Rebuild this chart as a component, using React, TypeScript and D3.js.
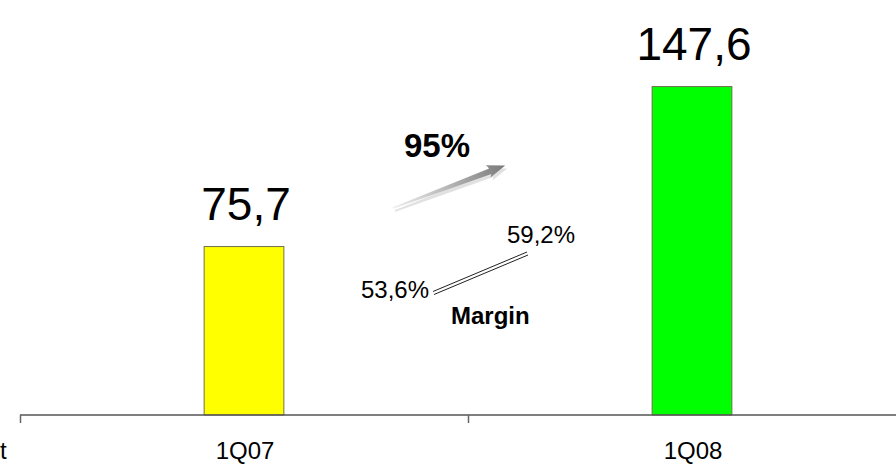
import React from "react";
import * as d3 from "d3";

const categories = ["1Q07", "1Q08"];
const revenue = [75.7, 147.6];
const valueLabels = ["75,7", "147,6"];
const barColors = ["#ffff00", "#00ff00"];
const growthLabel = "95%";
const marginLabels = ["53,6%", "59,2%"];
const marginTitle = "Margin";

const W = 896;
const H = 464;
const baseY = 415;

const x = d3.scaleBand<string>().domain(categories).range([20, 916]).padding(0);
const y = d3.scaleLinear().domain([0, 186.5]).range([baseY, 0]);
const barW = x.bandwidth() * 0.178;

// tapered arrow drawn along x, then rotated
const arrowLen = 120;
const arrowPath = d3.line()([
	[0, -0.8],
	[arrowLen - 16, -3],
	[arrowLen - 18, -7],
	[arrowLen, 0],
	[arrowLen - 18, 6],
	[arrowLen - 16, 3],
	[0, 0.8],
]);
const arrowAngle = (Math.atan2(166 - 208, 504 - 393) * 180) / Math.PI;

export default function App() {
	const font = "'Liberation Sans', Arial, sans-serif";
	return (
		<svg
			width={W}
			height={H}
			style={{ position: "absolute", left: 0, top: 0, background: "#fff" }}
			fontFamily={font}>
			<defs>
				<linearGradient id="arrowGrad" x1="0" x2="1" y1="0" y2="0">
					<stop offset="0%" stopColor="#f0f0f0" />
					<stop offset="100%" stopColor="#7a7a7a" />
				</linearGradient>
			</defs>
			{categories.map((c, i) => {
				const cx = (x(c) as number) + x.bandwidth() / 2;
				return (
					<g key={c}>
						<rect
							x={cx - barW / 2}
							y={y(revenue[i])}
							width={barW}
							height={baseY - y(revenue[i])}
							fill={barColors[i]}
							stroke="#707050"
							strokeWidth={1}/>
						<text
							x={cx + 2}
							y={y(revenue[i]) - 27}
							textAnchor="middle"
							fontSize={46}
							fill="#000">
							{valueLabels[i]}
						</text>
						<text x={cx + 1} y={459} textAnchor="middle" fontSize={24} fill="#000">
							{c}
						</text>
					</g>
				);
			})}
			<line x1={20} x2={W} y1={baseY} y2={baseY} stroke="#555" strokeWidth={1.5} />
			{categories.map((c) => (
				<line key={c} x1={(x(c) as number) + 0.5} x2={(x(c) as number) + 0.5} y1={baseY} y2={baseY + 8} stroke="#666" strokeWidth={1.5} />
			))}
			<text x={0} y={459} fontSize={24} fill="#000">t</text>

			<text x={404} y={157} fontSize={33} fontWeight="bold" fill="#000">
				{growthLabel}
			</text>
			<g transform={`translate(395,211) rotate(${arrowAngle})`} opacity={0.35}>
				<path d={arrowPath as string} fill="#aaa" />
			</g>
			<g transform={`translate(393,208) rotate(${arrowAngle})`}>
				<path d={arrowPath as string} fill="url(#arrowGrad)" />
			</g>

			<text x={361} y={298} fontSize={24} fill="#000">
				{marginLabels[0]}
			</text>
			<text x={507} y={243} fontSize={24} fill="#000">
				{marginLabels[1]}
			</text>
			<line x1={433} y1={291.5} x2={527} y2={252} stroke="#222" strokeWidth={1} />
			<line x1={434} y1={294.5} x2={528} y2={255} stroke="#222" strokeWidth={1} />
			<text x={451} y={324} fontSize={24} fontWeight="bold" fill="#000">
				{marginTitle}
			</text>
		</svg>
	);
}
